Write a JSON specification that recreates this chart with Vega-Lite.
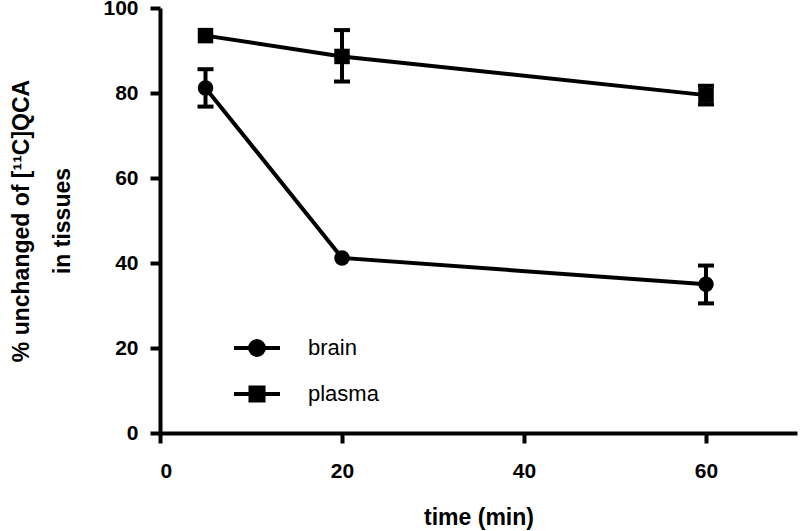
{
  "$schema": "https://vega.github.io/schema/vega-lite/v6.json",
  "width": 637,
  "height": 425,
  "autosize": {"type": "none"},
  "padding": {"left": 160, "top": 8, "right": 3, "bottom": 98},
  "background": "white",
  "config": {
    "view": {"stroke": null},
    "font": "Liberation Sans",
    "axis": {
      "domainColor": "black",
      "domainWidth": 4,
      "tickColor": "black",
      "tickWidth": 4,
      "tickSize": 10,
      "grid": false,
      "labelFont": "Liberation Sans",
      "labelFontWeight": "bold",
      "labelFontSize": 21,
      "labelColor": "black",
      "titleFont": "Liberation Sans",
      "titleFontWeight": "bold",
      "titleFontSize": 23,
      "titleColor": "black"
    }
  },
  "data": {
    "values": [
      {"series": "brain", "time": 5, "value": 81.2, "lo": 76.8, "hi": 85.6},
      {"series": "brain", "time": 20, "value": 41.2},
      {"series": "brain", "time": 60, "value": 35.0, "lo": 30.5, "hi": 39.4},
      {"series": "plasma", "time": 5, "value": 93.5},
      {"series": "plasma", "time": 20, "value": 88.6, "lo": 82.7, "hi": 94.8},
      {"series": "plasma", "time": 60, "value": 79.5, "lo": 77.3, "hi": 81.7}
    ]
  },
  "encoding": {
    "x": {
      "field": "time", "type": "quantitative",
      "scale": {"domain": [0, 70], "nice": false},
      "axis": {"values": [0, 20, 40, 60], "title": "time (min)", "labelPadding": 17, "titlePadding": 25}
    },
    "y": {
      "field": "value", "type": "quantitative",
      "scale": {"domain": [0, 100], "nice": false},
      "axis": {"values": [0, 20, 40, 60, 80, 100], "title": ["% unchanged of [¹¹C]QCA", "in tissues"], "labelPadding": 12, "titlePadding": 28, "titleLineHeight": 41}
    }
  },
  "resolve": {"scale": {"shape": "independent"}},
  "layer": [
    {
      "transform": [{"filter": "datum.lo != null"}],
      "mark": {"type": "rule", "color": "black", "strokeWidth": 4, "opacity": 1},
      "encoding": {"y": {"field": "lo", "type": "quantitative"}, "y2": {"field": "hi"}}
    },
    {
      "transform": [{"filter": "datum.lo != null"}],
      "mark": {"type": "tick", "orient": "horizontal", "color": "black", "size": 16, "thickness": 4, "opacity": 1},
      "encoding": {"y": {"field": "lo", "type": "quantitative"}}
    },
    {
      "transform": [{"filter": "datum.lo != null"}],
      "mark": {"type": "tick", "orient": "horizontal", "color": "black", "size": 16, "thickness": 4, "opacity": 1},
      "encoding": {"y": {"field": "hi", "type": "quantitative"}}
    },
    {
      "mark": {"type": "line", "color": "black", "strokeWidth": 4},
      "encoding": {"detail": {"field": "series"}}
    },
    {
      "mark": {"type": "point", "filled": true, "color": "black", "opacity": 1, "size": 240},
      "encoding": {
        "shape": {"field": "series", "type": "nominal", "scale": {"domain": ["brain", "plasma"], "range": ["circle", "square"]}, "legend": null}
      }
    },
    {
      "mark": {"type": "point", "filled": false, "color": "black", "strokeWidth": 4, "opacity": 0, "size": 1},
      "encoding": {
        "shape": {
          "field": "series", "type": "nominal",
          "scale": {"domain": ["brain", "plasma"], "range": [
            "M-1,0H1M-0.3,0A0.3,0.3 0 1 0 0.3,0A0.3,0.3 0 1 0 -0.3,0M-0.17,0A0.17,0.17 0 1 0 0.17,0A0.17,0.17 0 1 0 -0.17,0M-0.065,0A0.065,0.065 0 1 0 0.065,0A0.065,0.065 0 1 0 -0.065,0",
            "M-1,0H1M-0.283,-0.283H0.283V0.283H-0.283ZM-0.152,-0.152H0.152V0.152H-0.152ZM-0.043,-0.043H0.043V0.043H-0.043Z"
          ]},
          "legend": {
            "title": null,
            "orient": "none",
            "legendX": 72,
            "legendY": 315,
            "symbolSize": 2116,
            "symbolOpacity": 1,
            "symbolStrokeColor": "black",
            "symbolStrokeWidth": 4,
            "rowPadding": 6,
            "labelFont": "Liberation Sans",
            "labelFontSize": 22,
            "labelColor": "black",
            "labelOffset": 26
          }
        }
      }
    }
  ]
}
